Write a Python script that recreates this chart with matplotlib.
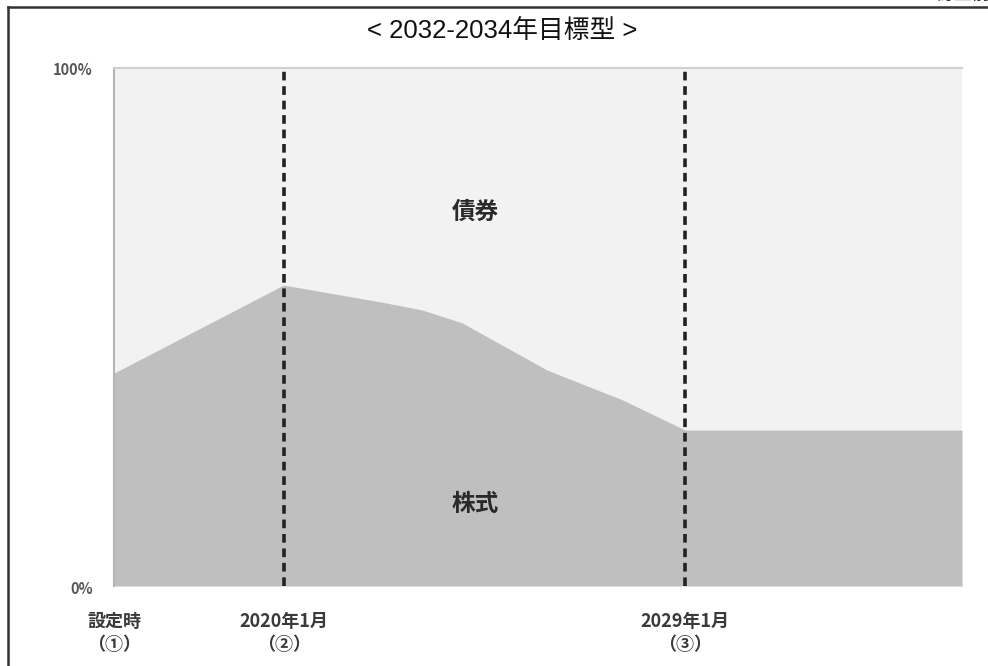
import matplotlib
matplotlib.use("Agg")
import matplotlib.pyplot as plt
from matplotlib.lines import Line2D

plt.rcParams["font.family"] = ["Noto Sans CJK JP", "DejaVu Sans"]

# stock share (%) of the fund over time
years = [2016.2, 2020.0, 2022.2, 2023.1, 2024.0, 2025.9, 2027.6, 2029.0, 2035.2]
equity = [41.1, 58.1, 54.8, 53.3, 50.8, 41.7, 35.9, 30.1, 30.1]

tick_years = [2016.2, 2020.0, 2029.0]
tick_labels = ["設定時\n（①）", "2020年1月\n（②）", "2029年1月\n（③）"]
marker_years = [2020.0, 2029.0]

title = "< 2032-2034年目標型 >"

fig = plt.figure(figsize=(9.88, 6.66), dpi=100)
ax = fig.add_axes([114 / 988, 80 / 666, 848 / 988, 518 / 666])

ax.fill_between(years, 0, 100, color="#f2f2f2", lw=0)
ax.fill_between(years, 0, equity, color="#bfbfbf", lw=0)
for yr in marker_years:
    ax.axvline(yr, color="#222222", lw=2.6, ls=(0, (2.4, 1.6)))

ax.set_xlim(years[0], years[-1])
ax.set_ylim(0, 100)
ax.set_yticks([])
ax.set_xticks([])
for side in ["bottom", "right"]:
    ax.spines[side].set_visible(False)
ax.spines["left"].set_color("#b5b5b5")
ax.spines["top"].set_color("#d0d0d0")
ax.spines["left"].set_linewidth(1.5)
ax.spines["top"].set_linewidth(1.5)

# y labels placed outside the axes
ax.text(-0.025, 0.997, "100%", transform=ax.transAxes, ha="right", va="center",
        fontsize=10.5, color="#555555", fontweight="bold")
ax.text(-0.025, -0.006, "0%", transform=ax.transAxes, ha="right", va="center",
        fontsize=10.5, color="#555555", fontweight="bold")

for x, lab in zip(tick_years, tick_labels):
    ax.text(x, -5.0, lab, ha="center", va="top", fontsize=13,
            color="#3a3a3a", fontweight="bold", linespacing=1.25)

ax.text(2024.3, 72.3, "債券", ha="center", va="center", fontsize=17,
        color="#2a2a2a", fontweight="bold")
ax.text(2024.3, 15.8, "株式", ha="center", va="center", fontsize=17,
        color="#2a2a2a", fontweight="bold")

fig.text(0.508, 1 - 31 / 666, title, ha="center", va="center", fontsize=18.5,
         color="#111111", family=["Liberation Sans", "Noto Sans CJK JP"])

# outer frame
x0, y0 = 8 / 988, 1 - 7 / 666
fig.add_artist(Line2D([x0, x0], [0, y0], color="#333333", lw=1.8))
fig.add_artist(Line2D([x0, 1.0], [y0, y0], color="#333333", lw=1.8))
fig.text(0.948, 1 - 4 / 666, "訂正前", ha="left", va="bottom", fontsize=13, color="#222222")

fig.savefig("out.png", dpi=100)
